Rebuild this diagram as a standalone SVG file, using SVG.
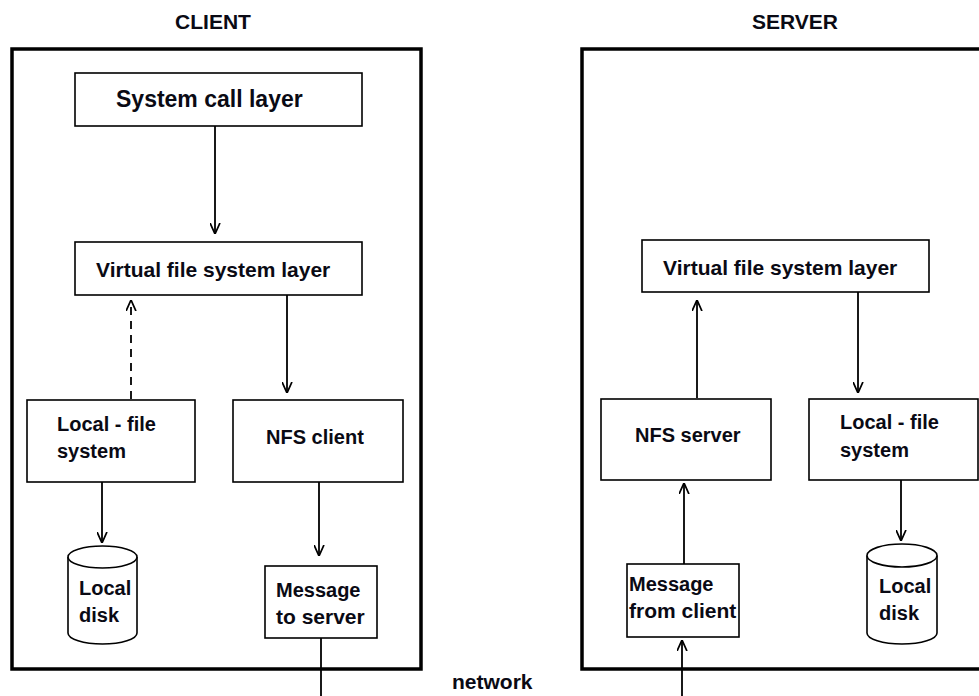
<svg xmlns="http://www.w3.org/2000/svg" width="979" height="696" viewBox="0 0 979 696">
<defs>
<marker id="arr" viewBox="0 0 10 10" refX="10" refY="5" markerWidth="11" markerHeight="11" markerUnits="userSpaceOnUse" orient="auto">
<path d="M0,0.5 L10,5 L0,9.5" fill="none" stroke="#000" stroke-width="1.6"/>
</marker>
<style>
text{font-family:"Liberation Sans",Arial,sans-serif;font-weight:bold;font-size:21px;fill:#0a0a14}
.outer{fill:none;stroke:#000;stroke-width:3.5}
.box{fill:#fff;stroke:#000;stroke-width:1.6}
.ln{fill:none;stroke:#000;stroke-width:1.8}
.arr{marker-end:url(#arr)}
.dash{stroke-dasharray:8 6}
</style>
</defs>
<rect width="979" height="696" fill="#fff"/>

<g id="client">
<rect class="outer" x="12" y="49" width="409" height="620"/>
<text x="213" y="29" text-anchor="middle">CLIENT</text>
</g>
<g id="server">
<rect class="outer" x="582" y="49" width="420" height="620"/>
<text x="795" y="29" text-anchor="middle">SERVER</text>
</g>

<g id="connectors">
<line class="ln arr" x1="215" y1="126" x2="215" y2="234"/>
<line class="ln arr dash" x1="131" y1="399" x2="131" y2="300"/>
<line class="ln arr" x1="287" y1="295" x2="287" y2="393"/>
<line class="ln arr" x1="102" y1="482" x2="102" y2="543"/>
<line class="ln arr" x1="319" y1="482" x2="319" y2="556"/>
<line class="ln" x1="321" y1="638" x2="321" y2="696"/>
<line class="ln arr" x1="697" y1="398" x2="697" y2="300"/>
<line class="ln arr" x1="858" y1="292" x2="858" y2="393"/>
<line class="ln arr" x1="901" y1="480" x2="901" y2="541"/>
<line class="ln arr" x1="684" y1="564" x2="684" y2="483"/>
<line class="ln arr" x1="682" y1="696" x2="682" y2="640"/>
</g>

<g id="c-syscall">
<rect class="box" x="75" y="73" width="287" height="53"/>
<text x="116" y="107" style="font-size:23px">System call layer</text>
</g>
<g id="c-vfs">
<rect class="box" x="75" y="242" width="287" height="53"/>
<text x="96" y="277">Virtual file system layer</text>
</g>
<g id="c-localfs">
<rect class="box" x="27" y="400" width="168" height="82"/>
<text x="57" y="431" style="font-size:20px">Local - file</text>
<text x="57" y="458" style="font-size:20px">system</text>
</g>
<g id="c-nfsclient">
<rect class="box" x="233" y="400" width="170" height="82"/>
<text x="266" y="444" style="font-size:20px">NFS client</text>
</g>
<g id="c-disk">
<path class="box" d="M68,557 V633 A34.5,11 0 0 0 137,633 V557"/>
<ellipse class="box" cx="102.5" cy="557" rx="34.5" ry="11"/>
<text x="79" y="595" style="font-size:20px">Local</text>
<text x="79" y="622" style="font-size:20px">disk</text>
</g>
<g id="c-msg">
<rect class="box" x="265" y="566" width="112" height="72"/>
<text x="276" y="597" style="font-size:20px">Message</text>
<text x="276" y="624">to server</text>
</g>

<g id="s-vfs">
<rect class="box" x="642" y="240" width="287" height="52"/>
<text x="663" y="275">Virtual file system layer</text>
</g>
<g id="s-nfsserver">
<rect class="box" x="601" y="399" width="170" height="81"/>
<text x="635" y="442" style="font-size:20px">NFS server</text>
</g>
<g id="s-localfs">
<rect class="box" x="809" y="399" width="169" height="81"/>
<text x="840" y="429" style="font-size:20px">Local - file</text>
<text x="840" y="457" style="font-size:20px">system</text>
</g>
<g id="s-disk">
<path class="box" d="M867,555.5 V633 A35,11 0 0 0 937,633 V555.5"/>
<ellipse class="box" cx="902" cy="555.5" rx="35" ry="11.5"/>
<text x="879" y="593" style="font-size:20px">Local</text>
<text x="879" y="620" style="font-size:20px">disk</text>
</g>
<g id="s-msg">
<rect class="box" x="627" y="564" width="112" height="73"/>
<text x="629" y="591" style="font-size:20px">Message</text>
<text x="629" y="618">from client</text>
</g>

<g id="network">
<text x="452" y="689">network</text>
</g>
</svg>
